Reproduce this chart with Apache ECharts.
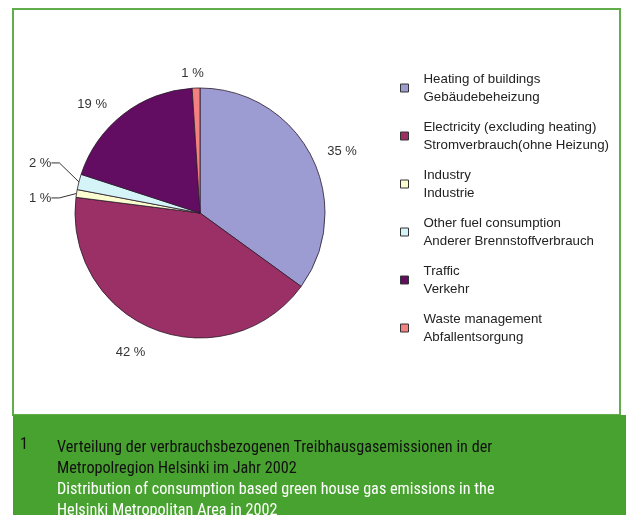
<!DOCTYPE html>
<html><head><meta charset="utf-8">
<script src="https://cdn.jsdelivr.net/npm/echarts@6/dist/echarts.min.js"></script>
<style>html,body{margin:0;padding:0;background:#fff;}#c{width:626px;height:515px;}</style>
</head><body><div id="c"></div>
<script>
const categories = ['Heating of buildings', 'Electricity (excluding heating)', 'Industry', 'Other fuel consumption', 'Traffic', 'Waste management'];
const categoriesDe = ['Gebäudebeheizung', 'Stromverbrauch(ohne Heizung)', 'Industrie', 'Anderer Brennstoffverbrauch', 'Verkehr', 'Abfallentsorgung'];
const values = [35, 42, 1, 2, 19, 1];
const colors = ['#9c9cd2', '#9b3066', '#fbfcd0', '#d4f4f8', '#620c62', '#f58080'];
const captionNumber = '1';
const captionDe = ['Verteilung der verbrauchsbezogenen Treibhausgasemissionen in der', 'Metropolregion Helsinki im Jahr 2002'];
const captionEn = ['Distribution of consumption based green house gas emissions in the', 'Helsinki Metropolitan Area in 2002'];

const deMap = {};
categories.forEach((c, i) => deMap[c] = categoriesDe[i]);
const smallIdx = [2, 3];
const labelShift = [[2, 0], [0, 14], [-5, 4], [-8, -16], [-10, -2], [13, -5]];

const chart = echarts.init(document.getElementById('c'), null, {renderer: 'canvas'});
const capFont = '"Liberation Sans Narrow", "Roboto Condensed", sans-serif';
const option = {
  animation: false,
  color: colors,
  legend: {
    orient: 'vertical',
    left: 395, top: 65,
    itemWidth: 8, itemHeight: 8, itemGap: 12,
    icon: 'rect',
    selectedMode: false,
    itemStyle: {borderColor: '#333', borderWidth: 1},
    data: categories,
    formatter: n => n + '\n' + deMap[n],
    textStyle: {fontFamily: 'Liberation Sans, Arial, sans-serif', fontSize: 13.3, color: '#222', lineHeight: 18, padding: [0, 0, 0, 10]}
  },
  series: [{
    type: 'pie',
    center: [200, 213],
    radius: 125,
    startAngle: 90,
    clockwise: true,
    avoidLabelOverlap: true,
    itemStyle: {borderColor: '#2a1a2a', borderWidth: 0.8},
    label: {
      show: true,
      formatter: '{c} %',
      fontFamily: 'Liberation Sans, Arial, sans-serif',
      fontSize: 13,
      color: '#333'
    },
    labelLine: {show: false, length: 10, length2: 0},
    labelLayout: p => {
      const s = labelShift[p.dataIndex], r = p.labelRect;
      return {x: r.x + s[0], y: r.y + s[1], align: 'left', verticalAlign: 'top'};
    },
    data: categories.map((c, i) => ({
      name: c,
      value: values[i],
      labelLine: smallIdx.includes(i) ? {show: true, length: 12, length2: 8, lineStyle: {color: '#333', width: 1}} : {show: false, length: 10, length2: 0}
    })),
    emphasis: {disabled: true}
  }],
  graphic: [
    {type: 'rect', silent: true, z: -10, shape: {x: 13, y: 9, width: 607, height: 406}, style: {fill: '#fff', stroke: '#62ad4b', lineWidth: 2}},
    {type: 'rect', silent: true, z: -9, shape: {x: 13, y: 415, width: 613, height: 100}, style: {fill: '#48a22f'}},
    {type: 'text', silent: true, left: 20, top: 437, style: {text: captionNumber, font: '16.2px ' + capFont, fill: '#111'}},
    {type: 'text', silent: true, left: 57, top: 437, style: {text: captionDe.join('\n'), font: '16.2px ' + capFont, lineHeight: 21, fill: '#111'}},
    {type: 'text', silent: true, left: 57, top: 479, style: {text: captionEn.join('\n'), font: '16.2px ' + capFont, lineHeight: 21, fill: '#fff'}}
  ]
};
chart.setOption(option);
</script></body></html>
